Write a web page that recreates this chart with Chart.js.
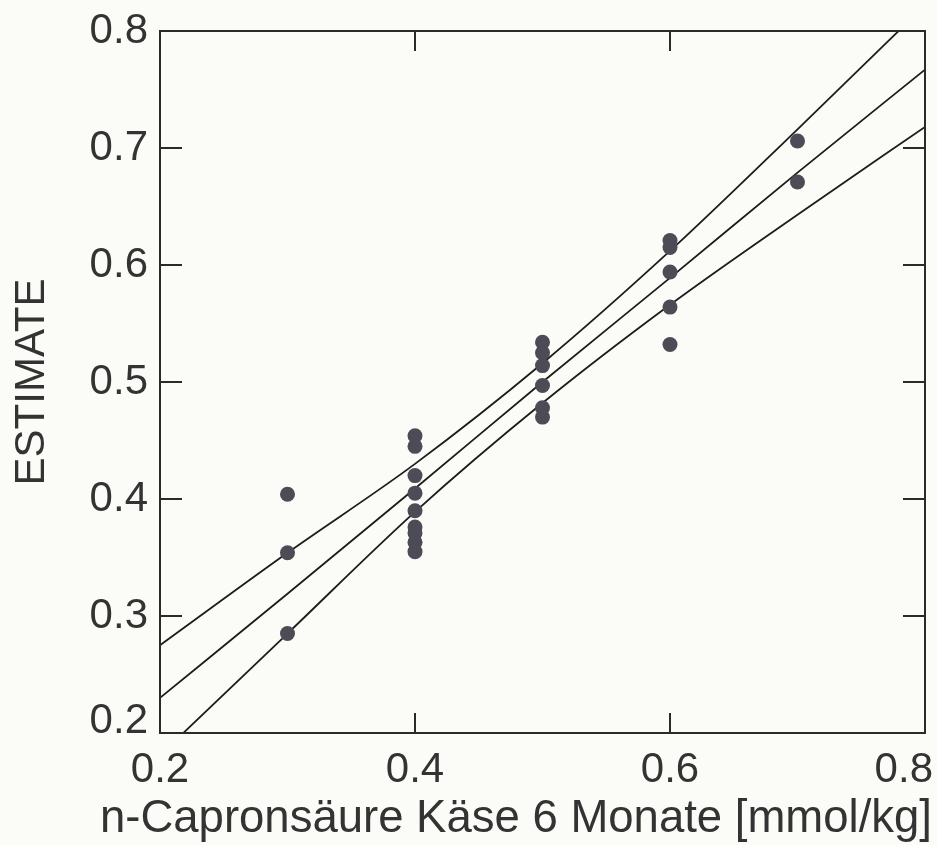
<!DOCTYPE html>
<html><head><meta charset="utf-8">
<script src="https://cdn.jsdelivr.net/npm/chart.js@4.4.1/dist/chart.umd.min.js"></script>
<style>html,body{margin:0;padding:0;background:#fbfbf7;} canvas{display:block;}</style>
</head><body>
<canvas id="c" width="937" height="845"></canvas>
<script>
const xTickValues = [0.2, 0.4, 0.6, 0.8];
const xTickLabels = ['0.2', '0.4', '0.6', '0.8'];
const yTickValues = [0.2, 0.3, 0.4, 0.5, 0.6, 0.7, 0.8];
const yTickLabels = ['0.2', '0.3', '0.4', '0.5', '0.6', '0.7', '0.8'];
const xTitle = 'n-Capronsäure Käse 6 Monate [mmol/kg]';
const yTitle = 'ESTIMATE';

const pointX = [0.3, 0.3, 0.3,
  0.4, 0.4, 0.4, 0.4, 0.4, 0.4, 0.4, 0.4, 0.4,
  0.5, 0.5, 0.5, 0.5, 0.5, 0.5,
  0.6, 0.6, 0.6, 0.6, 0.6,
  0.7, 0.7];
const pointY = [0.404, 0.354, 0.285,
  0.454, 0.445, 0.420, 0.405, 0.390, 0.376, 0.371, 0.363, 0.355,
  0.534, 0.525, 0.514, 0.497, 0.478, 0.470,
  0.621, 0.615, 0.594, 0.564, 0.532,
  0.706, 0.671];

const lineX = [0.2, 0.3, 0.4, 0.5, 0.6, 0.7, 0.8];
const upperBand = [0.275, 0.354, 0.430, 0.516, 0.612, 0.716, 0.822];
const fitLine = [0.230, 0.319, 0.409, 0.500, 0.589, 0.679, 0.767];
const lowerBand = [0.181, 0.285, 0.389, 0.482, 0.566, 0.643, 0.718];

const FONT = '"Liberation Sans", Arial, Helvetica, sans-serif';
const INK = '#2a2a2a';
const TEXT = '#333333';

function pts(xs, ys) { return xs.map((x, i) => ({x: x, y: ys[i]})); }
function lineDs(ys) {
  return {type: 'line', data: pts(lineX, ys), borderColor: '#1c1c1c', borderWidth: 1.8,
    pointRadius: 0, fill: false, cubicInterpolationMode: 'monotone', clip: 0, order: 2};
}

const framePlugin = {
  id: 'frame',
  afterDatasetsDraw(chart) {
    const {ctx, chartArea: a, scales: {x, y}} = chart;
    ctx.save();
    ctx.strokeStyle = INK;
    ctx.lineWidth = 2;
    ctx.strokeRect(a.left, a.top, a.right - a.left, a.bottom - a.top);
    ctx.beginPath();
    yTickValues.forEach(v => {
      const py = Math.round(y.getPixelForValue(v));
      if (py > a.top + 2 && py < a.bottom - 2) {
        ctx.moveTo(a.left, py); ctx.lineTo(a.left + 22, py);
        ctx.moveTo(a.right, py); ctx.lineTo(a.right - 22, py);
      }
    });
    xTickValues.forEach(v => {
      const px = Math.round(x.getPixelForValue(v));
      if (px > a.left + 2 && px < a.right - 2) {
        ctx.moveTo(px, a.bottom); ctx.lineTo(px, a.bottom - 20);
        ctx.moveTo(px, a.top); ctx.lineTo(px, a.top + 20);
      }
    });
    ctx.stroke();
    ctx.restore();
  },
  afterDraw(chart) {
    const {ctx, chartArea: a, scales: {x, y}, width} = chart;
    ctx.save();
    ctx.fillStyle = TEXT;
    ctx.font = '42px ' + FONT;
    // y tick labels
    ctx.textAlign = 'right';
    ctx.textBaseline = 'middle';
    yTickValues.forEach((v, i) => {
      let py = y.getPixelForValue(v);
      if (py > a.bottom - 2) py -= 12;
      ctx.fillText(yTickLabels[i], a.left - 12, py);
    });
    // x tick labels
    ctx.textAlign = 'center';
    ctx.textBaseline = 'alphabetic';
    xTickValues.forEach((v, i) => {
      const w = ctx.measureText(xTickLabels[i]).width;
      let px = x.getPixelForValue(v);
      px = Math.min(px, width - w / 2 - 4);
      ctx.fillText(xTickLabels[i], px, a.bottom + 49);
    });
    // x title
    ctx.font = '45.5px ' + FONT;
    const tw = ctx.measureText(xTitle).width;
    let cx = (a.left + a.right) / 2;
    cx = Math.min(cx, width - tw / 2 - 5);
    ctx.fillText(xTitle, cx, a.bottom + 99);
    ctx.restore();
  }
};

new Chart(document.getElementById('c'), {
  type: 'scatter',
  data: {
    datasets: [
      {type: 'scatter', data: pts(pointX, pointY), backgroundColor: '#4c4c56', borderColor: '#4c4c56',
        borderWidth: 0, pointRadius: 7.5, order: 1},
      lineDs(upperBand),
      lineDs(fitLine),
      lineDs(lowerBand)
    ]
  },
  options: {
    responsive: false,
    animation: false,
    events: [],
    layout: {padding: {left: 0, top: 31, right: 12, bottom: 0}},
    plugins: {legend: {display: false}, tooltip: {enabled: false}},
    scales: {
      x: {
        type: 'linear', min: 0.2, max: 0.8,
        grid: {display: false}, border: {display: false},
        ticks: {display: false},
        afterFit(s) { s.height = 112; s.paddingLeft = 0; s.paddingRight = 0; }
      },
      y: {
        type: 'linear', min: 0.2, max: 0.8,
        grid: {display: false}, border: {display: false},
        ticks: {display: false},
        title: {display: true, text: yTitle, color: TEXT,
          font: {family: FONT, size: 42, weight: 'normal'}, padding: {top: 7, bottom: 0}},
        afterFit(s) { s.width = 160; s.paddingTop = 0; s.paddingBottom = 0; }
      }
    }
  },
  plugins: [framePlugin]
});
</script>
</body></html>
